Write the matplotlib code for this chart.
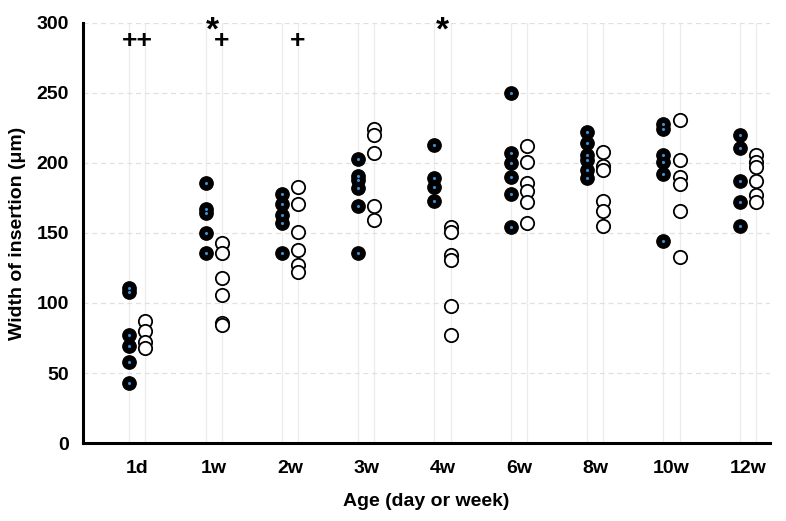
import numpy as np
import matplotlib.pyplot as plt

plt.rcParams['font.family'] = ['Liberation Sans', 'DejaVu Sans']
plt.rcParams['font.weight'] = 'bold'

# Age groups and the two sample sets (filled / open circles)
ages = ['1d', '1w', '2w', '3w', '4w', '6w', '8w', '10w', '12w']

filled_vals = [
    [111, 108, 77, 69, 58, 43],
    [186, 167, 164, 150, 136],
    [178, 171, 163, 157, 136],
    [203, 191, 188, 182, 169, 136],
    [213, 189, 183, 173],
    [250, 207, 200, 190, 178, 154],
    [222, 214, 206, 202, 195, 189],
    [228, 224, 206, 201, 192, 144],
    [220, 211, 187, 172, 155],
]

open_vals = [
    [87, 80, 72, 68],
    [143, 136, 118, 106, 86, 84],
    [183, 171, 151, 138, 127, 122],
    [224, 220, 207, 169, 159],
    [154, 151, 134, 131, 98, 77],
    [212, 201, 186, 180, 172, 157],
    [208, 198, 195, 173, 166, 155],
    [231, 202, 190, 185, 166, 133],
    [206, 201, 197, 187, 177, 172],
]

# significance marks: (label, age index, x offset, y)
marks = [('++', 0, 0.0, 287), ('*', 1, -0.01, 294), ('+', 1, 0.105, 287),
         ('+', 2, 0.105, 287), ('*', 4, 0.0, 294)]

off = 0.105

fig = plt.figure(figsize=(7.86, 5.21), dpi=100)
ax = fig.add_axes([0.1056, 0.1497, 0.8740, 0.8062])

# faint vertical column lines
for i in range(len(ages)):
    for dx in (-off, off):
        ax.axvline(i + dx, color='#ececec', lw=0.9, zorder=0)

# dashed horizontal grid
for yv in [50, 100, 150, 200, 250, 300]:
    ax.axhline(yv, color='#e0e0e0', lw=0.9, ls=(0, (4, 3)), zorder=0)

for i in range(len(ages)):
    yf = filled_vals[i]
    yo = open_vals[i]
    ax.scatter(np.full(len(yf), i - off), yf, s=92, c='black',
               edgecolors='black', linewidths=1.0, zorder=3)
    ax.scatter(np.full(len(yf), i - off), yf, s=5, c='#3a8fd6',
               linewidths=0, zorder=4)
    ax.scatter(np.full(len(yo), i + off), yo, s=92, facecolors='white',
               edgecolors='black', linewidths=1.3, zorder=3)

for txt, i, dx, yv in marks:
    fs = 24 if txt == '*' else 19
    ax.text(i + dx, yv, txt, ha='center', va='center', fontsize=fs,
            fontweight='bold', clip_on=False, zorder=5)

ax.set_xlim(-0.71, 8.29)
ax.set_ylim(0, 300)
ax.set_xticks(range(len(ages)))
ax.set_xticklabels(ages)
ax.set_yticks([0, 50, 100, 150, 200, 250, 300])
ax.tick_params(axis='both', length=0, labelsize=14)
ax.tick_params(axis='x', pad=12)
ax.tick_params(axis='y', pad=10)

for sp in ['top', 'right']:
    ax.spines[sp].set_visible(False)
for sp in ['left', 'bottom']:
    ax.spines[sp].set_linewidth(2.2)

ax.set_ylabel('Width of insertion (μm)', fontsize=14, fontweight='bold', labelpad=8)
ax.set_xlabel('Age (day or week)', fontsize=14, fontweight='bold', labelpad=12)

fig.savefig('out.png', dpi=100)
